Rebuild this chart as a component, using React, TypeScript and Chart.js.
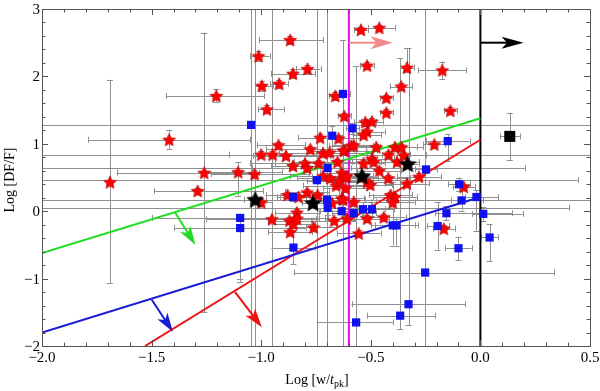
import React, { useEffect, useRef } from "react";
import { Chart, registerables } from "chart.js";
Chart.register(...registerables);

const xTicks = [-2.0, -1.5, -1.0, -0.5, 0.0, 0.5];
const yTicks = [-2, -1, 0, 1, 2, 3];

// [x, y, x-, x+, y-, y+]
const redStars: number[][] = [
  [-1.69, 0.43, 0, 0, 1.5, 1.52],
  [-1.42, 1.06, 0.37, 0.37, 0.14, 0.15],
  [-1.205, 1.71, 0.23, 0.22, 0.09, 0.1],
  [-1.26, 0.57, 0.4, 0.25, 2.07, 2.08],
  [-1.29, 0.3, 0.2, 0.3, 0.05, 0.05],
  [-1.105, 0.58, 0.15, 0.2, 0.35, 0.15],
  [-1.03, 0.55, 0.2, 0.25, 0.06, 0.06],
  [-1.012, 2.3, 0.04, 0.05, 0.07, 0.07],
  [-0.997, 1.86, 0.03, 0.05, 0.07, 0.07],
  [-0.974, 1.51, 0.04, 0.08, 0.06, 0.06],
  [-0.918, 1.89, 0.04, 0.04, 0.06, 0.06],
  [-0.868, 2.54, 0.14, 0.15, 0.06, 0.06],
  [-0.855, 2.04, 0.1, 0.1, 0.07, 0.07],
  [-0.789, 2.11, 0.05, 0.06, 0.06, 0.06],
  [-0.921, 0.98, 0.1, 0.12, 0.05, 0.05],
  [-1.0, 0.84, 1.5, 1.5, 0.05, 0.05],
  [-0.948, 0.84, 0.2, 0.2, 0.05, 0.05],
  [-0.887, 0.82, 0.15, 0.2, 0.05, 0.05],
  [-0.855, 0.67, 0.1, 0.15, 0.05, 0.05],
  [-0.776, 0.92, 0.2, 0.2, 0.05, 0.05],
  [-0.731, 1.09, 0.1, 0.1, 0.05, 0.05],
  [-0.647, 1.08, 0.1, 0.1, 0.05, 0.05],
  [-0.718, 0.86, 0.2, 0.2, 0.05, 0.05],
  [-0.688, 0.87, 0.2, 0.2, 0.05, 0.05],
  [-0.621, 0.9, 0.15, 0.15, 0.05, 0.05],
  [-0.8, 0.71, 0.25, 0.2, 0.05, 0.05],
  [-0.79, 0.64, 0.25, 0.2, 0.05, 0.05],
  [-0.738, 0.71, 0.2, 0.2, 0.05, 0.05],
  [-0.652, 0.73, 0.2, 0.2, 0.05, 0.05],
  [-0.718, 0.52, 0.15, 0.15, 0.05, 0.05],
  [-0.685, 0.49, 0.15, 0.15, 0.05, 0.05],
  [-0.658, 0.38, 0.15, 0.15, 0.05, 0.05],
  [-0.642, 0.45, 0.15, 0.15, 0.05, 0.05],
  [-0.616, 0.51, 0.15, 0.15, 0.05, 0.05],
  [-1.0, 0.13, 0.05, 0.05, 0.05, 0.05],
  [-0.88, 0.24, 0.1, 0.1, 0.05, 0.05],
  [-0.83, 0.21, 0.1, 0.1, 0.05, 0.05],
  [-0.79, 0.28, 0.1, 0.1, 0.05, 0.05],
  [-0.743, 0.24, 0.1, 0.1, 0.05, 0.05],
  [-0.545, 2.69, 0.03, 0.03, 0.04, 0.04],
  [-0.461, 2.72, 0.05, 0.07, 0.04, 0.04],
  [-0.517, 2.16, 0.03, 0.03, 0.05, 0.05],
  [-0.335, 2.13, 0.03, 0.03, 0.06, 0.29],
  [-0.174, 2.09, 0.11, 0.11, 0.13, 0.13],
  [-0.361, 1.85, 0.05, 0.05, 0.05, 0.05],
  [-0.429, 1.68, 0.03, 0.03, 0.05, 0.05],
  [-0.429, 1.46, 0.03, 0.03, 0.05, 0.05],
  [-0.137, 1.49, 0.03, 0.03, 0.05, 0.05],
  [-0.662, 1.71, 0.03, 0.03, 0.06, 0.06],
  [-0.621, 1.41, 0.03, 0.03, 0.05, 0.05],
  [-0.525, 1.32, 0.05, 0.05, 0.05, 0.05],
  [-0.495, 1.33, 0.05, 0.05, 0.05, 0.05],
  [-0.517, 1.18, 0.05, 0.08, 0.05, 0.05],
  [-0.533, 1.13, 0.05, 0.08, 0.05, 0.05],
  [-0.475, 0.95, 0.1, 0.1, 0.05, 0.05],
  [-0.589, 0.97, 0.1, 0.1, 0.05, 0.05],
  [-0.578, 0.98, 0.1, 0.1, 0.05, 0.05],
  [-0.624, 0.9, 0.1, 0.1, 0.05, 0.05],
  [-0.21, 0.99, 0.05, 0.05, 0.05, 0.05],
  [-0.419, 0.84, 0.1, 0.1, 0.05, 0.05],
  [-0.39, 0.95, 0.1, 0.1, 0.05, 0.05],
  [-0.36, 0.95, 0.1, 0.1, 0.05, 0.05],
  [-0.35, 0.83, 0.1, 0.1, 0.05, 0.05],
  [-0.495, 0.78, 0.1, 0.1, 0.05, 0.05],
  [-0.533, 0.71, 0.1, 0.1, 0.05, 0.05],
  [-0.487, 0.73, 0.1, 0.1, 0.05, 0.05],
  [-0.38, 0.73, 0.1, 0.1, 0.05, 0.05],
  [-0.461, 0.6, 0.1, 0.1, 0.05, 0.05],
  [-0.42, 0.49, 0.1, 0.1, 0.05, 0.05],
  [-0.28, 0.51, 0.1, 0.1, 0.05, 0.05],
  [-0.335, 0.41, 0.1, 0.1, 0.05, 0.05],
  [-0.517, 0.43, 0.1, 0.1, 0.05, 0.05],
  [-0.502, 0.39, 0.1, 0.1, 0.05, 0.05],
  [-0.632, 0.57, 0.1, 0.1, 0.05, 0.05],
  [-0.61, 0.52, 0.1, 0.1, 0.05, 0.05],
  [-0.578, 0.14, 0.1, 0.1, 0.05, 0.05],
  [-0.616, 0.34, 0.1, 0.1, 0.05, 0.05],
  [-0.632, 0.19, 0.1, 0.1, 0.05, 0.05],
  [-0.41, 0.24, 0.1, 0.1, 0.05, 0.05],
  [-0.39, 0.21, 0.1, 0.1, 0.05, 0.05],
  [-0.4, 0.13, 0.1, 0.1, 0.05, 0.05],
  [-0.076, 0.36, 0.05, 0.05, 0.05, 0.05],
  [-0.951, -0.12, 0.3, 0.2, 4, 4],
  [-0.871, -0.14, 0.1, 0.1, 0.05, 0.05],
  [-0.853, -0.19, 0.1, 0.1, 0.05, 0.05],
  [-0.868, -0.31, 0.1, 0.1, 0.05, 0.05],
  [-0.837, -0.02, 0.1, 0.1, 0.05, 0.05],
  [-0.837, -0.11, 0.1, 0.1, 0.05, 0.05],
  [-0.761, -0.24, 0.1, 0.1, 0.05, 0.05],
  [-0.667, -0.14, 0.1, 0.1, 0.05, 0.05],
  [-0.609, -0.11, 0.1, 0.1, 0.05, 0.05],
  [-0.517, -0.11, 0.1, 0.1, 0.05, 0.05],
  [-0.441, -0.09, 0.1, 0.1, 0.05, 0.05],
  [-0.555, -0.33, 0.1, 0.1, 0.05, 0.05],
  [-0.167, -0.26, 0.05, 0.05, 0.05, 0.05],
  [-0.677, 0.12, 0.1, 0.1, 0.05, 0.05],
  [-0.627, 0.17, 0.1, 0.1, 0.05, 0.05],
];

const blueSquares: number[][] = [
  [-1.046, 1.28, 1.5, 2.0, 4, 2],
  [-0.855, 0.21, 0.06, 0.06, 0.06, 0.06],
  [-0.627, 1.74, 0.03, 0.03, 4, 0.8],
  [-0.584, 1.23, 0.03, 0.03, 0.08, 0.08],
  [-0.676, 1.12, 0.05, 0.05, 0.3, 0.15],
  [-0.149, 1.04, 0.1, 0.1, 0.3, 0.1],
  [-0.697, 0.64, 1.5, 0.9, 0.05, 0.05],
  [-0.746, 0.46, 1.5, 1.19, 4, 4],
  [-0.248, 0.62, 0.05, 0.05, 0.05, 0.05],
  [-0.097, 0.4, 0.05, 0.05, 0.1, 0.1],
  [-0.7, 0.17, 1.5, 1.5, 4, 4],
  [-0.697, 0.05, 1.5, 1.1, 0.1, 0.1],
  [-0.633, 0.0, 0.1, 0.1, 0.1, 0.1],
  [-0.578, -0.03, 0.1, 0.1, 0.1, 0.1],
  [-0.536, 0.03, 0.1, 0.1, 0.1, 0.1],
  [-0.495, 0.03, 0.1, 0.1, 0.1, 0.1],
  [-0.4, -0.21, 0.1, 0.1, 0.3, 0.65],
  [-0.383, -0.21, 0.1, 0.1, 0.3, 0.1],
  [-0.195, -0.22, 0.05, 0.05, 0.35, 0.35],
  [-0.155, -0.03, 0.05, 0.3, 0.1, 0.1],
  [-0.086, 0.16, 0.05, 0.1, 0.15, 0.25],
  [-0.018, 0.21, 0.05, 0.1, 0.5, 0.1],
  [0.013, -0.04, 0.05, 0.18, 0.1, 0.1],
  [0.042, -0.39, 0.04, 0.04, 0.35, 0.2],
  [-0.1, -0.55, 0.06, 0.06, 0.18, 0.17],
  [-0.252, -0.91, 0.6, 0.59, 1.1, 4],
  [-0.328, -1.38, 0.26, 0.26, 0.31, 3.8],
  [-0.366, -1.55, 0.15, 0.16, 0.2, 3.82],
  [-0.567, -1.65, 0.18, 0.17, 0.4, 3.8],
  [-1.096, -0.1, 0.4, 0.4, 0.9, 0.05],
  [-1.096, -0.25, 0.3, 0.3, 0.8, 0.05],
  [-0.853, -0.54, 0.1, 0.1, 0.25, 0.25],
];

const blackStars: number[][] = [
  [-1.027, 0.17, 0.05, 0.05, 4, 4],
  [-0.764, 0.12, 0.05, 0.05, 0.05, 0.05],
  [-0.54, 0.52, 0.05, 0.05, 0.05, 0.05],
  [-0.332, 0.7, 0.05, 0.05, 0.05, 0.05],
];

const blackSquare: number[][] = [[0.134, 1.11, 0.046, 0.046, 0.35, 0.35]];

const greenLine = [[-2, -0.62], [0, 1.38]];
const blueLine = [[-2, -1.8], [0, 0.21]];
const redLine = [[-1.53, -2], [0, 1.06]];
const magentaLine = [[-0.6, -2], [-0.6, 3]];
const blackLine = [[0, -2], [0, 3]];

// arrows: [x1, y1, x2, y2]
const pinkArrow = [-0.6, 2.5, -0.4, 2.5];
const blackArrow = [0, 2.5, 0.197, 2.5];
const greenArrow = [-1.393, -0.02, -1.3, -0.5];
const blueArrow = [-1.5, -1.31, -1.403, -1.79];
const redArrow = [-1.119, -1.2, -0.997, -1.72];

function makeStar(r: number, fill: string, stroke: string) {
  const c = document.createElement("canvas");
  const s = Math.ceil(r * 2 + 2);
  c.width = s;
  c.height = s;
  const ctx = c.getContext("2d")!;
  ctx.beginPath();
  for (let i = 0; i < 10; i++) {
    const a = -Math.PI / 2 + (i * Math.PI) / 5;
    const rr = i % 2 === 0 ? r : r * 0.48;
    ctx.lineTo(s / 2 + rr * Math.cos(a), s / 2 + 0.6 + rr * Math.sin(a));
  }
  ctx.closePath();
  ctx.fillStyle = fill;
  ctx.fill();
  ctx.strokeStyle = stroke;
  ctx.lineWidth = 0.6;
  ctx.stroke();
  return c;
}

const pts = (a: number[][]) => a.map((p) => ({ x: p[0], y: p[1] }));
const fmt = (v: number, d: number) => (v < 0 ? "\u2212" : "") + Math.abs(v).toFixed(d);

export default function App() {
  const ref = useRef<HTMLCanvasElement>(null);
  useEffect(() => {
    const canvas = ref.current!;
    const redImg = makeStar(6.8, "#ff0000", "#b00000");
    const blackImg = makeStar(8.8, "#000000", "#000000");

    const plugin = {
      id: "custom",
      beforeDatasetsDraw(chart: any) {
        const { ctx, chartArea: a } = chart;
        const xs = chart.scales.x, ys = chart.scales.y;
        ctx.save();
        ctx.beginPath();
        ctx.rect(a.left, a.top, a.right - a.left, a.bottom - a.top);
        ctx.clip();
        ctx.strokeStyle = "#909090";
        ctx.lineWidth = 1;
        const cap = 3;
        const all = [...redStars, ...blueSquares, ...blackStars, ...blackSquare];
        for (const p of all) {
          const px = xs.getPixelForValue(p[0]);
          const py = ys.getPixelForValue(p[1]);
          const x1 = xs.getPixelForValue(p[0] - p[2]);
          const x2 = xs.getPixelForValue(p[0] + p[3]);
          const y1 = ys.getPixelForValue(p[1] - p[4]);
          const y2 = ys.getPixelForValue(p[1] + p[5]);
          ctx.beginPath();
          if (p[2] + p[3] > 0) {
            ctx.moveTo(x1, Math.round(py) + 0.5);
            ctx.lineTo(x2, Math.round(py) + 0.5);
            ctx.moveTo(Math.round(x1) + 0.5, py - cap);
            ctx.lineTo(Math.round(x1) + 0.5, py + cap);
            ctx.moveTo(Math.round(x2) + 0.5, py - cap);
            ctx.lineTo(Math.round(x2) + 0.5, py + cap);
          }
          if (p[4] + p[5] > 0) {
            ctx.moveTo(Math.round(px) + 0.5, y1);
            ctx.lineTo(Math.round(px) + 0.5, y2);
            ctx.moveTo(px - cap, Math.round(y1) + 0.5);
            ctx.lineTo(px + cap, Math.round(y1) + 0.5);
            ctx.moveTo(px - cap, Math.round(y2) + 0.5);
            ctx.lineTo(px + cap, Math.round(y2) + 0.5);
          }
          ctx.stroke();
        }
        ctx.restore();
      },
      afterDatasetsDraw(chart: any) {
        const { ctx } = chart;
        const xs = chart.scales.x, ys = chart.scales.y;
        const arrow = (ar: number[], color: string, hl: number, hw: number, lw: number) => {
          const x1 = xs.getPixelForValue(ar[0]), y1 = ys.getPixelForValue(ar[1]);
          const x2 = xs.getPixelForValue(ar[2]), y2 = ys.getPixelForValue(ar[3]);
          const ang = Math.atan2(y2 - y1, x2 - x1);
          const c = Math.cos(ang), s = Math.sin(ang);
          ctx.save();
          ctx.strokeStyle = color;
          ctx.fillStyle = color;
          ctx.lineWidth = lw;
          ctx.beginPath();
          ctx.moveTo(x1, y1);
          ctx.lineTo(x2 - c * hl * 0.6, y2 - s * hl * 0.6);
          ctx.stroke();
          const bx = x2 - c * hl, by = y2 - s * hl;
          const nx = x2 - c * hl * 0.75, ny = y2 - s * hl * 0.75;
          ctx.beginPath();
          ctx.moveTo(x2, y2);
          ctx.lineTo(bx - s * hw / 2, by + c * hw / 2);
          ctx.lineTo(nx, ny);
          ctx.lineTo(bx + s * hw / 2, by - c * hw / 2);
          ctx.closePath();
          ctx.fill();
          ctx.restore();
        };
        arrow(pinkArrow, "#f48a8a", 22, 13, 2);
        arrow(blackArrow, "#000000", 22, 12, 2);
        arrow(greenArrow, "#22dd22", 19, 12, 2);
        arrow(blueArrow, "#1a1ad8", 19, 12, 2);
        arrow(redArrow, "#ee1111", 19, 12, 2);
      },
      afterDraw(chart: any) {
        const { ctx, chartArea: a } = chart;
        const xs = chart.scales.x, ys = chart.scales.y;
        ctx.save();
        ctx.strokeStyle = "#555555";
        ctx.lineWidth = 1;
        ctx.strokeRect(Math.round(a.left) + 0.5, Math.round(a.top) + 0.5, Math.round(a.right - a.left), Math.round(a.bottom - a.top));
        ctx.beginPath();
        for (let i = -20; i <= 5; i++) {
          const v = i / 10;
          const px = Math.round(xs.getPixelForValue(v)) + 0.5;
          const len = i % 5 === 0 ? 6 : 3.5;
          ctx.moveTo(px, a.bottom);
          ctx.lineTo(px, a.bottom - len);
          ctx.moveTo(px, a.top);
          ctx.lineTo(px, a.top + len);
        }
        for (let i = -10; i <= 15; i++) {
          const v = i / 5;
          const py = Math.round(ys.getPixelForValue(v)) + 0.5;
          const len = i % 5 === 0 ? 6 : 3.5;
          ctx.moveTo(a.left, py);
          ctx.lineTo(a.left + len, py);
          ctx.moveTo(a.right, py);
          ctx.lineTo(a.right - len, py);
        }
        ctx.stroke();
        ctx.fillStyle = "#000";
        ctx.font = "15px 'Liberation Serif', serif";
        ctx.textBaseline = "middle";
        ctx.textAlign = "center";
        for (const v of xTicks) {
          ctx.fillText(fmt(v, 1), xs.getPixelForValue(v), a.bottom + 12);
        }
        ctx.textAlign = "right";
        for (const v of yTicks) {
          ctx.fillText(fmt(v, 0), a.left - 2, ys.getPixelForValue(v) + 1);
        }
        // x title
        ctx.textAlign = "left";
        ctx.textBaseline = "alphabetic";
        const parts: [string, string, number][] = [
          ["Log [w/", "14px 'Liberation Serif', serif", 0],
          ["t", "italic 14px 'Liberation Serif', serif", 0],
          ["pk", "10px 'Liberation Serif', serif", 3],
          ["]", "14px 'Liberation Serif', serif", 0],
        ];
        let total = 0;
        for (const p of parts) { ctx.font = p[1]; total += ctx.measureText(p[0]).width; }
        let cx = 317 - total / 2;
        for (const p of parts) {
          ctx.font = p[1];
          ctx.fillText(p[0], cx, 384 + p[2]);
          cx += ctx.measureText(p[0]).width;
        }
        // y title
        ctx.translate(14, 180);
        ctx.rotate(-Math.PI / 2);
        ctx.font = "14px 'Liberation Serif', serif";
        ctx.textAlign = "center";
        ctx.fillText("Log [DF/F]", 0, 0);
        ctx.restore();
      },
    };

    const lineDs = (d: number[][], color: string, w: number) => ({
      type: "line" as const,
      data: pts(d),
      showLine: true,
      borderColor: color,
      borderWidth: w,
      pointRadius: 0,
      fill: false,
      order: 5,
    });

    const chart = new Chart(canvas, {
      type: "scatter",
      data: {
        datasets: [
          { data: pts(blackStars), pointStyle: blackImg as any, pointRadius: 8, order: 0 },
          { data: pts(blackSquare), pointStyle: "rect", pointRadius: 7.8, backgroundColor: "#000", borderWidth: 0, order: 1 },
          { data: pts(blueSquares), pointStyle: "rect", pointRadius: 5.8, backgroundColor: "#1010f0", borderWidth: 0, order: 2 },
          { data: pts(redStars), pointStyle: redImg as any, pointRadius: 6, order: 3 },
          lineDs(greenLine, "#22dd22", 2),
          lineDs(blueLine, "#1a1ad8", 2),
          lineDs(redLine, "#ee1111", 2),
          lineDs(magentaLine, "#e010e0", 2),
          lineDs(blackLine, "#000000", 2),
        ] as any,
      },
      options: {
        animation: false,
        responsive: false,
        layout: { padding: { top: 9, right: 10, left: 0, bottom: 0 } },
        plugins: { legend: { display: false }, tooltip: { enabled: false } },
        scales: {
          x: {
            type: "linear",
            min: -2,
            max: 0.5,
            grid: { display: false },
            border: { display: false },
            ticks: { display: false },
            afterFit: (s: any) => { s.height = 45; },
          },
          y: {
            type: "linear",
            min: -2,
            max: 3,
            grid: { display: false },
            border: { display: false },
            ticks: { display: false },
            afterFit: (s: any) => { s.width = 42; },
          },
        },
      },
      plugins: [plugin],
    });
    return () => chart.destroy();
  }, []);
  return (
    <div style={{ position: "fixed", left: 0, top: 0, width: 600, height: 391, background: "#fff" }}>
      <canvas ref={ref} width={600} height={391} style={{ width: 600, height: 391, display: "block" }} />
    </div>
  );
}
